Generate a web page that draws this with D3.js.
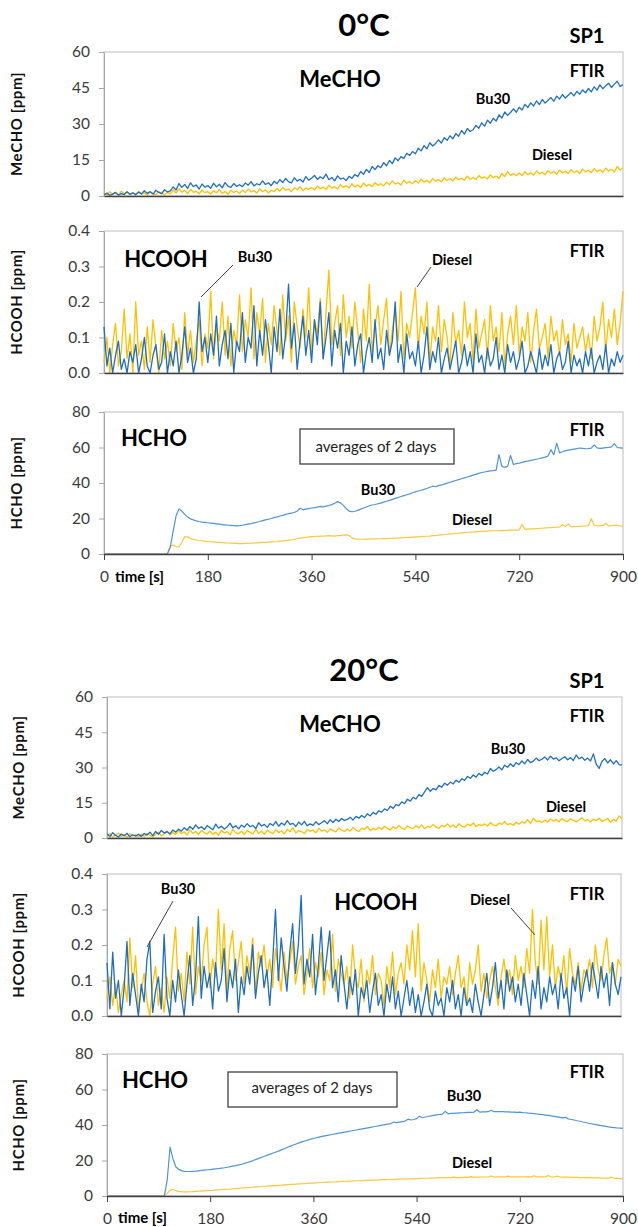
<!DOCTYPE html>
<html><head><meta charset="utf-8">
<script src="https://cdn.jsdelivr.net/npm/d3@7"></script>
<style>body{margin:0;background:#fff}svg{display:block}</style>
</head><body>
<svg id="c" width="638" height="1227"></svg>
<script>
// ---- DATA (one value every 5 s, 0..900 s) ----
const timeTicks = [0,180,360,540,720,900];
const mechoTicks = [0,15,30,45,60];
const hcoohTicks = [0,0.1,0.2,0.3,0.4];
const hchoTicks = [0,20,40,60,80];

const meCHO_0C_Bu30 = [
0.5,1.2,0.3,0.8,1.5,0.4,1.0,0.6,1.8,0.7,1.3,0.5,
1.6,0.9,2.2,1.1,1.8,0.8,2.4,1.5,1.0,2.6,1.7,2.1,
3.8,2.5,5.2,3.6,4.8,3.1,5.5,3.9,4.6,2.9,5.0,3.7,
4.4,3.2,5.3,3.8,4.9,3.4,5.6,4.1,3.6,5.2,4.0,4.7,
3.9,5.4,4.5,6.0,4.2,5.1,4.6,6.3,4.8,5.5,4.3,6.1,
5.2,6.8,5.6,7.3,6.0,5.4,7.6,6.2,7.0,5.8,8.1,6.6,
7.4,8.6,6.9,8.0,7.2,9.1,6.8,7.7,6.3,8.4,7.0,7.5,
6.4,8.2,7.3,9.0,8.1,10.2,9.0,11.1,9.8,12.3,11.0,12.6,
11.8,13.9,12.6,14.8,13.5,15.9,14.7,16.4,15.6,17.8,16.9,18.5,
17.6,19.9,18.8,21.0,19.7,22.2,20.8,21.9,23.4,22.1,24.3,23.2,
25.1,23.8,26.0,24.9,27.3,25.8,28.1,26.9,27.6,29.4,28.2,30.5,
29.1,31.6,30.3,32.4,31.2,33.8,32.5,35.0,33.6,34.8,36.3,34.9,
37.0,35.8,38.2,36.9,38.8,37.5,39.6,38.1,40.2,38.7,39.9,41.0,
39.5,41.6,40.4,42.3,40.8,42.0,43.1,41.7,43.6,42.4,44.2,43.0,
44.8,43.4,45.5,44.1,46.3,44.7,45.9,47.0,45.2,46.6,47.8,45.6,
46.4];
const meCHO_0C_Diesel = [
1.2,0.4,1.8,0.6,1.5,0.3,2.0,0.9,1.6,0.5,1.3,0.8,
1.9,0.7,1.4,0.4,1.7,1.0,0.5,1.8,1.1,0.6,1.5,0.9,
2.6,1.2,3.1,1.6,2.4,1.0,2.8,1.5,2.0,0.9,2.5,1.4,
1.8,0.8,2.3,1.3,2.7,1.1,1.9,0.7,2.4,1.5,2.1,1.0,
2.5,1.4,2.9,1.7,2.2,1.2,3.0,1.8,2.6,1.3,2.3,1.9,
3.1,2.0,3.6,2.4,2.9,1.8,3.4,2.6,3.9,2.2,3.3,2.8,
3.5,2.5,4.2,3.0,3.7,2.7,4.5,3.3,3.9,2.9,4.8,3.6,
4.3,3.4,5.0,3.8,4.6,3.5,5.4,4.1,4.8,3.9,5.6,4.4,
5.1,4.2,5.8,4.7,6.3,5.0,5.5,4.6,6.6,5.3,6.0,5.1,
6.4,5.4,7.0,5.8,6.5,5.5,7.3,6.2,6.8,5.9,7.6,6.5,
7.2,6.3,7.9,6.8,7.4,6.6,8.3,7.0,7.7,6.9,8.5,7.4,
8.0,7.1,8.8,7.6,8.3,7.3,9.4,8.1,10.2,8.6,9.3,8.4,
9.6,8.5,10.1,8.9,9.7,8.7,10.4,9.2,9.9,8.8,10.6,9.5,
10.2,9.1,10.8,9.6,10.3,9.3,11.0,9.8,10.5,9.4,11.2,10.1,
10.7,9.7,11.4,10.2,10.9,9.9,11.6,10.4,11.1,10.0,12.3,10.8,
11.8];
const hcooh_0C_Bu30 = [
0.13,0.02,0.07,0.00,0.05,0.09,0.01,0.04,0.00,0.06,0.03,0.08,
0.00,0.04,0.10,0.02,0.00,0.05,0.08,0.01,0.03,0.11,0.00,0.06,
0.02,0.09,0.00,0.05,0.13,0.03,0.07,0.00,0.04,0.20,0.06,0.10,
0.03,0.11,0.05,0.16,0.02,0.08,0.12,0.04,0.14,0.00,0.09,0.06,
0.17,0.03,0.10,0.07,0.19,0.02,0.12,0.05,0.15,0.08,0.00,0.13,
0.06,0.18,0.04,0.11,0.25,0.07,0.14,0.01,0.09,0.16,0.05,0.12,
0.03,0.15,0.08,0.20,0.04,0.10,0.17,0.02,0.12,0.07,0.14,0.00,
0.09,0.05,0.13,0.02,0.08,0.11,0.00,0.06,0.10,0.03,0.15,0.04,
0.07,0.01,0.12,0.05,0.09,0.20,0.03,0.08,0.00,0.11,0.04,0.06,
0.02,0.09,0.00,0.05,0.13,0.01,0.06,0.03,0.10,0.00,0.04,0.07,
0.01,0.05,0.09,0.00,0.03,0.08,0.02,0.06,0.00,0.11,0.03,0.05,
0.00,0.07,0.02,0.04,0.10,0.01,0.05,0.00,0.08,0.03,0.06,0.01,
0.04,0.09,0.00,0.02,0.06,0.03,0.00,0.07,0.01,0.05,0.02,0.08,
0.00,0.04,0.06,0.01,0.03,0.09,0.00,0.05,0.02,0.04,0.00,0.06,
0.02,0.07,0.00,0.03,0.05,0.01,0.08,0.00,0.04,0.02,0.06,0.03,
0.05];
const hcooh_0C_Diesel = [
0.03,0.10,0.00,0.08,0.14,0.02,0.06,0.18,0.04,0.11,0.00,0.20,
0.05,0.09,0.01,0.13,0.03,0.15,0.07,0.00,0.12,0.04,0.09,0.02,
0.14,0.06,0.10,0.01,0.17,0.05,0.12,0.03,0.09,0.15,0.02,0.11,
0.07,0.23,0.04,0.13,0.09,0.20,0.05,0.16,0.02,0.12,0.08,0.22,
0.06,0.15,0.10,0.24,0.04,0.17,0.11,0.21,0.03,0.14,0.08,0.19,
0.12,0.05,0.22,0.09,0.16,0.03,0.20,0.13,0.07,0.18,0.10,0.24,
0.06,0.15,0.11,0.21,0.04,0.17,0.29,0.08,0.14,0.19,0.05,0.22,
0.10,0.16,0.07,0.20,0.12,0.03,0.18,0.09,0.25,0.06,0.13,0.19,
0.08,0.15,0.21,0.05,0.12,0.18,0.09,0.23,0.04,0.14,0.10,0.17,
0.24,0.07,0.16,0.11,0.20,0.03,0.13,0.09,0.19,0.06,0.15,0.10,
0.02,0.17,0.08,0.12,0.05,0.20,0.10,0.14,0.03,0.18,0.07,0.11,
0.15,0.04,0.19,0.09,0.13,0.06,0.17,0.02,0.11,0.16,0.08,0.19,
0.05,0.13,0.09,0.17,0.03,0.12,0.18,0.07,0.10,0.14,0.04,0.16,
0.09,0.12,0.05,0.15,0.08,0.11,0.03,0.14,0.07,0.10,0.13,0.06,
0.11,0.04,0.16,0.09,0.13,0.20,0.06,0.15,0.10,0.18,0.08,0.14,
0.23];
const hcho_0C_Bu30 = [
0,0,0,0,0,0,0,0,0,0,0,0,
0,0,0,0,0,0,0,0,0,0,0,4,
13,21.5,25.3,24.2,22.3,20.8,19.8,19.2,18.7,18.3,18.0,17.8,
17.6,17.4,17.2,17.0,16.8,16.6,16.4,16.2,16.1,16.0,15.9,16.0,
16.2,16.5,16.8,17.1,17.5,17.9,18.3,18.8,19.2,19.6,20.0,20.5,
20.9,21.4,21.8,22.3,22.7,23.0,23.4,24.2,25.8,24.9,25.3,25.6,
25.9,26.1,26.4,26.8,26.5,27.0,27.3,27.8,28.6,29.5,28.8,27.4,
25.6,24.2,23.8,24.1,24.6,25.3,25.9,26.5,27.2,27.6,27.9,28.3,
28.7,29.2,29.7,30.2,30.8,31.3,31.8,32.4,32.9,33.4,33.9,34.5,
35.0,35.5,35.9,36.4,36.9,37.6,38.2,37.9,38.5,38.9,39.4,39.9,
40.4,40.9,41.4,41.9,42.4,42.9,43.4,43.9,44.4,44.9,45.4,45.9,
46.2,46.5,46.8,47.0,47.3,56.0,49.3,48.8,49.5,55.5,50.4,50.9,
51.2,51.6,52.0,52.3,52.7,53.0,53.4,53.8,54.2,54.6,55.2,58.8,
55.9,62.5,57.0,57.6,58.1,58.5,58.8,59.1,59.4,59.7,59.5,59.3,
59.4,59.6,61.5,59.8,59.5,59.7,59.9,60.1,60.4,62.2,60.0,59.8,
59.6];
const hcho_0C_Diesel = [
0,0,0,0,0,0,0,0,0,0,0,0,
0,0,0,0,0,0,0,0,0,0,0.5,4.5,
5.0,4.2,4.0,6.5,9.8,9.5,8.8,8.2,7.9,7.6,7.4,7.2,
7.0,6.9,6.8,6.6,6.5,6.4,6.3,6.2,6.1,6.0,6.0,5.9,
5.9,6.0,6.0,6.1,6.2,6.3,6.4,6.5,6.6,6.7,6.8,6.9,
7.0,7.2,7.4,7.6,7.8,8.0,8.3,8.6,8.9,9.2,9.4,9.6,
9.8,9.9,10.0,10.1,10.0,10.2,10.3,10.2,10.1,10.3,10.4,10.6,
10.8,10.4,9.2,8.5,8.4,8.3,8.3,8.4,8.4,8.5,8.5,8.6,
8.6,8.7,8.7,8.8,8.8,8.9,9.0,9.1,9.2,9.3,9.4,9.5,
9.6,9.7,9.8,9.9,10.0,10.1,10.3,10.4,10.6,10.8,11.0,11.1,
11.3,11.4,11.6,11.7,11.9,12.0,12.1,12.3,12.4,12.5,12.6,12.7,
12.8,12.9,13.0,13.1,13.1,13.2,13.2,13.3,13.3,13.4,13.4,13.5,
13.6,16.7,13.9,14.0,14.1,14.2,14.3,14.4,14.5,14.7,14.8,14.9,
15.0,15.1,15.2,16.5,15.5,17.0,15.3,15.4,15.5,15.6,15.7,15.8,
16.0,20.0,16.2,15.9,16.0,16.1,17.2,15.9,16.0,16.2,16.1,15.9,
15.6];
const meCHO_20C_Bu30 = [
1.8,0.6,2.3,1.1,0.4,1.7,0.9,2.0,0.5,1.4,0.8,1.6,
0.7,1.9,1.2,2.5,1.0,2.8,1.6,3.2,2.1,2.7,1.8,3.4,
2.5,3.8,2.9,4.4,3.3,4.9,3.7,5.6,4.1,4.8,3.6,5.3,
4.4,3.5,5.9,4.2,5.0,3.8,4.7,6.3,4.3,5.2,3.9,5.5,
4.6,6.1,4.8,5.4,4.0,6.5,5.1,5.8,4.5,6.2,5.3,7.0,
5.0,6.4,5.5,7.4,5.8,6.2,4.9,6.8,5.6,7.1,5.2,6.0,
5.4,6.9,5.7,6.5,7.4,6.1,7.8,6.6,8.0,7.0,8.3,7.5,
7.9,8.8,7.6,9.2,8.4,9.6,8.7,10.3,9.4,10.9,10.1,11.6,
11.0,12.4,11.7,13.5,12.6,14.2,13.8,15.4,14.6,16.5,15.7,17.3,
16.6,18.5,17.7,19.6,21.4,19.9,21.1,20.5,22.4,21.6,23.3,22.5,
23.8,23.0,24.6,23.7,25.3,24.5,26.2,25.4,26.8,25.9,27.5,26.6,
28.0,27.2,29.6,28.4,29.1,30.2,29.0,31.0,30.1,31.6,30.4,32.1,
31.2,32.8,31.6,33.4,32.1,32.7,34.0,32.9,33.5,34.5,33.2,34.8,
33.6,34.1,32.9,33.8,34.6,33.3,34.2,33.0,35.3,33.7,34.4,33.1,
34.0,32.8,35.8,31.4,29.6,32.6,33.8,32.0,33.3,31.5,32.9,31.2,
31.0];
const meCHO_20C_Diesel = [
0.8,1.9,0.4,1.3,2.1,0.6,1.5,0.3,1.8,0.9,1.4,0.5,
1.7,0.6,2.0,1.1,0.4,1.6,2.4,0.9,1.8,3.0,1.3,2.3,
1.5,3.2,1.9,2.6,1.2,3.5,2.0,2.8,1.4,3.3,2.2,1.7,
3.0,1.6,2.5,1.1,3.4,2.1,2.7,1.3,3.6,2.2,1.8,2.9,
1.5,3.2,2.4,1.7,3.8,2.0,2.9,1.6,3.3,2.5,1.9,3.5,
2.3,3.0,1.8,3.7,2.6,4.4,2.1,3.1,2.7,1.9,3.6,2.8,
3.4,2.2,4.1,2.9,3.5,2.4,3.9,3.1,2.6,4.3,3.3,2.8,
3.8,2.9,4.5,3.4,2.7,4.2,3.6,4.9,3.2,4.0,3.5,4.6,
3.7,5.0,4.1,3.4,4.8,3.9,5.3,4.2,3.6,5.1,4.4,4.0,
5.2,4.3,5.6,3.9,4.9,4.5,5.8,4.6,4.1,5.4,4.8,6.0,
4.7,5.5,4.4,6.1,5.0,4.6,5.9,5.2,6.4,4.9,5.7,5.3,
6.0,5.1,6.6,5.5,5.2,6.3,5.8,7.0,5.6,6.2,5.4,6.7,
5.9,6.9,6.3,7.8,6.1,8.4,7.0,7.3,6.6,7.6,6.8,8.1,
7.2,7.9,6.9,8.3,7.4,7.0,8.2,7.5,6.8,7.7,8.6,7.3,
7.8,6.9,8.0,7.4,8.4,7.1,7.6,8.3,6.7,7.9,7.2,9.4,
8.2];
const hcooh_20C_Bu30 = [
0.15,0.02,0.18,0.05,0.10,0.00,0.08,0.21,0.03,0.12,0.06,0.00,
0.09,0.04,0.16,0.21,0.01,0.07,0.11,0.02,0.23,0.05,0.00,0.10,
0.04,0.13,0.06,0.00,0.09,0.17,0.03,0.11,0.28,0.05,0.14,0.08,
0.12,0.02,0.15,0.07,0.10,0.19,0.04,0.13,0.08,0.16,0.01,0.11,
0.06,0.14,0.09,0.20,0.05,0.12,0.17,0.08,0.13,0.03,0.15,0.30,
0.10,0.22,0.14,0.07,0.18,0.26,0.12,0.20,0.34,0.09,0.16,0.11,
0.23,0.06,0.14,0.25,0.10,0.17,0.24,0.08,0.13,0.04,0.17,0.09,
0.02,0.11,0.06,0.13,0.00,0.08,0.05,0.10,0.01,0.07,0.12,0.03,
0.06,0.00,0.09,0.04,0.11,0.02,0.07,0.00,0.05,0.10,0.03,0.08,
0.01,0.06,0.00,0.04,0.09,0.02,0.00,0.07,0.03,0.05,0.00,0.08,
0.04,0.10,0.02,0.06,0.00,0.08,0.03,0.05,0.01,0.09,0.04,0.00,
0.06,0.12,0.03,0.08,0.15,0.05,0.10,0.02,0.13,0.07,0.11,0.04,
0.09,0.03,0.12,0.06,0.00,0.10,0.05,0.14,0.02,0.08,0.04,0.11,
0.06,0.09,0.02,0.12,0.05,0.08,0.00,0.11,0.07,0.14,0.04,0.09,
0.13,0.07,0.15,0.10,0.05,0.14,0.08,0.12,0.03,0.15,0.09,0.06,
0.11];
const hcooh_20C_Diesel = [
0.05,0.11,0.03,0.09,0.01,0.06,0.10,0.04,0.22,0.08,0.17,0.02,
0.07,0.12,0.04,0.00,0.09,0.14,0.03,0.08,0.01,0.11,0.05,0.16,
0.25,0.07,0.12,0.04,0.18,0.09,0.25,0.06,0.14,0.10,0.20,0.25,
0.08,0.16,0.11,0.30,0.13,0.26,0.07,0.19,0.24,0.10,0.15,0.21,
0.09,0.17,0.12,0.22,0.06,0.18,0.14,0.20,0.11,0.16,0.08,0.19,
0.13,0.07,0.18,0.10,0.15,0.21,0.09,0.14,0.17,0.06,0.12,0.19,
0.08,0.15,0.11,0.18,0.06,0.13,0.10,0.23,0.07,0.16,0.12,0.09,
0.14,0.05,0.20,0.11,0.08,0.16,0.04,0.13,0.09,0.17,0.06,0.12,
0.10,0.03,0.14,0.08,0.18,0.06,0.12,0.15,0.09,0.20,0.13,0.24,
0.11,0.26,0.07,0.15,0.10,0.04,0.13,0.08,0.16,0.05,0.11,0.09,
0.14,0.06,0.12,0.17,0.08,0.11,0.03,0.15,0.09,0.13,0.20,0.07,
0.12,0.05,0.10,0.14,0.08,0.03,0.11,0.16,0.09,0.13,0.06,0.17,
0.10,0.14,0.08,0.19,0.12,0.30,0.15,0.09,0.27,0.13,0.28,0.11,
0.20,0.08,0.14,0.10,0.17,0.06,0.19,0.12,0.09,0.15,0.07,0.13,
0.11,0.16,0.08,0.20,0.13,0.10,0.17,0.22,0.12,0.15,0.09,0.16,
0.14];
const hcho_20C_Bu30 = [
0,0,0,0,0,0,0,0,0,0,0,0,
0,0,0,0,0,0,0,0,0,9,27.5,21,
16.5,15.0,14.3,13.9,13.8,13.8,13.9,14.0,14.2,14.4,14.6,14.8,
14.9,15.1,15.3,15.5,15.7,15.9,16.2,16.5,16.8,17.1,17.5,17.9,
18.4,18.9,19.4,20.0,20.6,21.2,21.8,22.4,23.0,23.6,24.2,24.8,
25.4,26.1,26.8,27.5,28.1,28.7,29.3,29.9,30.5,31.0,31.5,32.0,
32.4,32.8,33.2,33.6,33.9,34.2,34.5,34.8,35.1,35.4,35.7,36.0,
36.3,36.6,36.9,37.2,37.5,37.8,38.1,38.4,38.7,39.0,39.3,39.6,
39.9,40.2,40.5,40.8,41.7,41.3,41.6,41.9,42.2,43.3,42.8,43.1,
43.6,44.9,44.1,44.5,44.8,45.1,45.4,45.7,45.9,46.1,47.7,46.3,
46.5,46.6,46.7,46.8,46.9,47.0,47.1,47.1,47.2,48.6,47.3,47.4,
47.4,47.5,48.3,47.5,47.6,47.5,47.5,47.4,47.4,47.3,47.2,47.1,
47.2,47.0,46.9,46.7,46.6,46.4,46.2,46.0,45.8,45.6,45.4,45.1,
44.9,44.6,44.3,44.0,44.3,43.4,43.1,42.8,42.4,42.1,41.7,41.4,
41.0,40.7,40.4,40.1,39.8,39.5,39.2,38.9,38.7,38.5,38.3,38.2,
38.1];
const hcho_20C_Diesel = [
0,0,0,0,0,0,0,0,0,0,0,0,
0,0,0,0,0,0,0,0,0,1.5,3.2,3.8,
3.0,2.6,2.4,2.3,2.3,2.4,2.5,2.6,2.7,2.8,2.9,3.0,
3.1,3.2,3.4,3.5,3.6,3.7,3.8,3.9,4.1,4.2,4.3,4.5,
4.6,4.7,4.8,5.0,5.1,5.2,5.3,5.5,5.6,5.7,5.8,5.9,
6.0,6.1,6.3,6.4,6.5,6.6,6.7,6.8,6.9,7.0,7.1,7.2,
7.3,7.4,7.5,7.6,7.7,7.8,7.8,7.9,8.0,8.1,8.2,8.3,
8.4,8.4,8.5,8.6,8.6,8.7,8.8,8.8,8.9,9.0,9.0,9.1,
9.2,9.2,9.3,9.3,9.4,9.5,9.5,9.6,9.6,9.7,9.7,9.8,
9.8,9.9,9.9,10.0,10.0,10.1,10.1,10.2,10.2,10.3,10.3,10.3,
10.4,10.6,10.4,10.4,10.5,10.5,10.5,10.9,10.6,10.6,10.6,10.7,
10.7,10.7,11.3,10.7,10.8,10.8,10.8,10.8,11.2,10.8,10.8,10.8,
10.8,10.8,10.8,10.9,10.8,11.4,10.8,10.8,10.8,10.8,11.6,10.7,
10.7,11.2,10.7,10.6,10.6,10.6,10.5,10.5,10.5,10.4,10.4,10.4,
10.3,10.3,10.2,10.2,10.2,10.1,10.1,10.0,10.6,9.9,9.9,9.8,
9.7];
const sampleStep = 5;

// ---- DRAWING ----
const FONT = "Lato, 'Open Sans', 'Liberation Sans', sans-serif";
const BLUE = '#1F6EC0', YELLOW = '#FFC000', LBLUE = '#4E94D6', LYELLOW = '#FFC83A';
const svg = d3.select('#c');

const panels = [
 {top:52, bottom:196, left:104, right:623, dom:[0,60], ticks:mechoTicks, fmt:d3.format('d'), title:'MeCHO [ppm]', tx:17,
  series:[[meCHO_0C_Diesel,YELLOW,1.3],[meCHO_0C_Bu30,BLUE,1.3]], xaxis:false},
 {top:231, bottom:373, left:104, right:623, dom:[0,0.4], ticks:hcoohTicks, fmt:d3.format('.1f'), title:'HCOOH [ppm]', tx:17,
  series:[[hcooh_0C_Diesel,YELLOW,1.3],[hcooh_0C_Bu30,BLUE,1.3]], xaxis:false},
 {top:412, bottom:554, left:104, right:623, dom:[0,80], ticks:hchoTicks, fmt:d3.format('d'), title:'HCHO [ppm]', tx:17,
  series:[[hcho_0C_Diesel,LYELLOW,1.2],[hcho_0C_Bu30,LBLUE,1.2]], xaxis:true},
 {top:697, bottom:838, left:107, right:622, dom:[0,60], ticks:mechoTicks, fmt:d3.format('d'), title:'MeCHO [ppm]', tx:19,
  series:[[meCHO_20C_Diesel,YELLOW,1.3],[meCHO_20C_Bu30,BLUE,1.3]], xaxis:false},
 {top:874, bottom:1016, left:107, right:621, dom:[0,0.4], ticks:hcoohTicks, fmt:d3.format('.1f'), title:'HCOOH [ppm]', tx:19,
  series:[[hcooh_20C_Diesel,YELLOW,1.3],[hcooh_20C_Bu30,BLUE,1.3]], xaxis:false},
 {top:1054, bottom:1196, left:107, right:623, dom:[0,80], ticks:hchoTicks, fmt:d3.format('d'), title:'HCHO [ppm]', tx:19,
  series:[[hcho_20C_Diesel,LYELLOW,1.2],[hcho_20C_Bu30,LBLUE,1.2]], xaxis:true}
];

panels.forEach(p => {
  const x = d3.scaleLinear().domain([0,900]).range([p.left,p.right]);
  const y = d3.scaleLinear().domain(p.dom).range([p.bottom,p.top]);
  const g = svg.append('g');
  g.append('rect').attr('x',p.left).attr('y',p.top).attr('width',p.right-p.left).attr('height',p.bottom-p.top)
   .attr('fill','none').attr('stroke','#bdbdbd').attr('stroke-width',1);
  const ya = g.append('g').attr('transform',`translate(${p.left},0)`)
   .call(d3.axisLeft(y).tickValues(p.ticks).tickSize(5).tickSizeOuter(0).tickPadding(9).tickFormat(p.fmt));
  ya.select('.domain').attr('stroke','#a6a6a6');
  ya.selectAll('.tick line').attr('stroke','#a6a6a6');
  ya.selectAll('.tick text').attr('font-family',FONT).attr('font-size',15.5).attr('fill','#3a3a3a');
  const line = d3.line().x((d,i)=>x(i*sampleStep)).y(d=>y(d));
  p.series.forEach(([data,color,w]) => {
    g.append('path').datum(data).attr('d',line).attr('fill','none')
     .attr('stroke',color).attr('stroke-width',w).attr('stroke-linejoin','round');
  });
  const xa = g.append('g').attr('transform',`translate(0,${p.bottom})`)
   .call(d3.axisBottom(x).tickValues(p.xaxis?timeTicks:[]).tickSize(6).tickSizeOuter(0).tickPadding(11).tickFormat(d3.format('d')));
  xa.select('.domain').attr('stroke','#404040').attr('stroke-width',1.6);
  xa.selectAll('.tick line').attr('stroke','#404040');
  xa.selectAll('.tick text').attr('font-family',FONT).attr('font-size',15.5).attr('fill','#3a3a3a');
  const mid = (p.top+p.bottom)/2;
  g.append('text').attr('transform',`translate(${p.tx},${mid}) rotate(-90)`).attr('text-anchor','middle')
   .attr('dy','0.35em').attr('font-family',FONT).attr('font-weight','bold').attr('font-size',15).attr('letter-spacing',0.6).attr('fill','#111')
   .text(p.title);
});

// ---- TEXT ANNOTATIONS ----
const labels = [
 ['0°C',364,36,31,'middle'], ['SP1',587,43,20,'middle'], ['FTIR',587,77,16.5,'middle'],
 ['MeCHO',340,87,22,'middle'], ['Bu30',493,104,14.5,'middle'], ['Diesel',552,160,14.5,'middle'],
 ['HCOOH',166,267,22,'middle'], ['Bu30',255,262,14.5,'middle'], ['Diesel',452,265,14.5,'middle'], ['FTIR',587,257,16.5,'middle'],
 ['HCHO',154,446,22,'middle'], ['Bu30',378,495,14.5,'middle'], ['Diesel',472,525,14.5,'middle'], ['FTIR',587,436,16.5,'middle'],
 ['time [s]',115,582,15,'start'],
 ['20°C',364,681,31,'middle'], ['SP1',587,688,20,'middle'], ['FTIR',587,722,16.5,'middle'],
 ['MeCHO',340,732,22,'middle'], ['Bu30',508,754,14.5,'middle'], ['Diesel',566,812,14.5,'middle'],
 ['Bu30',178,894,14.5,'middle'], ['HCOOH',376,910,22,'middle'], ['Diesel',490,905,14.5,'middle'], ['FTIR',587,900,16.5,'middle'],
 ['HCHO',155,1088,22,'middle'], ['Bu30',464,1101,14.5,'middle'], ['Diesel',472,1168,14.5,'middle'], ['FTIR',587,1078,16.5,'middle'],
 ['time [s]',118,1223,15,'start']
];
svg.selectAll('text.lab').data(labels).enter().append('text').attr('class','lab')
 .attr('x',d=>d[1]).attr('y',d=>d[2]).attr('font-size',d=>d[3]).attr('text-anchor',d=>d[4])
 .attr('font-family',FONT).attr('font-weight','bold').attr('fill','#000').text(d=>d[0]);

const leaders = [[233,265,201,297],[431,267,417,287],[173,901,147,947],[511,908,535,935]];
svg.selectAll('line.lead').data(leaders).enter().append('line').attr('class','lead')
 .attr('x1',d=>d[0]).attr('y1',d=>d[1]).attr('x2',d=>d[2]).attr('y2',d=>d[3])
 .attr('stroke','#404040').attr('stroke-width',1);

const boxes = [[300,429,154,35,376,452],[228,1072,169,35,312,1093]];
boxes.forEach(b => {
  svg.append('rect').attr('x',b[0]).attr('y',b[1]).attr('width',b[2]).attr('height',b[3])
   .attr('fill','#fff').attr('stroke','#404040').attr('stroke-width',1.3);
  svg.append('text').attr('x',b[4]).attr('y',b[5]).attr('text-anchor','middle').attr('font-family',FONT)
   .attr('font-size',15).attr('fill','#222').text('averages of 2 days');
});
</script>
</body></html>
